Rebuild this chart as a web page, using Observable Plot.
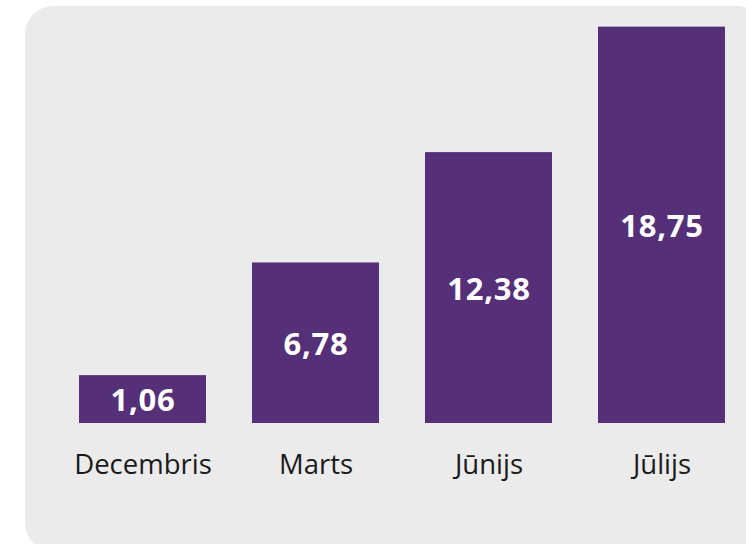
<!DOCTYPE html>
<html>
<head>
<meta charset="utf-8">
<script src="https://cdn.jsdelivr.net/npm/d3@7"></script>
<script src="https://cdn.jsdelivr.net/npm/@observablehq/plot@0.6"></script>
<style>
  html, body { margin: 0; padding: 0; background: #ffffff; width: 746px; height: 544px; overflow: hidden; }
  #panel { position: absolute; left: 25px; top: 6px; width: 740px; height: 545px; background: #ebebeb; border-radius: 28px; }
  #chart { position: absolute; left: 0; top: 0; }
</style>
</head>
<body>
<div id="panel"></div>
<div id="chart"></div>
<script>
const categories = ["Decembris", "Marts", "Jūnijs", "Jūlijs"];
const values = [1.06, 6.78, 12.38, 18.75];
const valueLabels = ["1,06", "6,78", "12,38", "18,75"];
const baseline = -1.37;

const data = categories.map((c, i) => ({ cat: c, value: values[i], label: valueLabels[i] }));

const chart = Plot.plot({
  width: 746,
  height: 544,
  marginTop: 0,
  marginLeft: 0,
  marginRight: 0,
  marginBottom: 114,
  style: { background: "transparent", fontFamily: "'Open Sans', sans-serif", overflow: "visible" },
  x: { domain: categories, range: [55.8, 749], paddingInner: 0.267, paddingOuter: 0.1335, axis: null },
  y: { domain: [baseline, 20], range: [423, 2], axis: null },
  marks: [
    Plot.barY(data, { x: "cat", y1: baseline, y2: "value", fill: "#553079" }),
    Plot.text(data, {
      x: "cat",
      y: d => (baseline + d.value) / 2,
      text: "label",
      fill: "#ffffff",
      fontSize: 31,
      fontWeight: 700,
      fontFamily: "'Open Sans', sans-serif",
      dy: 2
    }),
    Plot.axisX({ domain: categories, tickSize: 0, tickPadding: 24, fontSize: 27.5, color: "#1a1a1a", label: null, fontFamily: "'Open Sans', sans-serif" })
  ]
});
chart.querySelectorAll("text").forEach(t => { if (t.closest("[aria-label='text']")) t.setAttribute("letter-spacing", "0.8"); });
document.getElementById("chart").appendChild(chart);
</script>
</body>
</html>
